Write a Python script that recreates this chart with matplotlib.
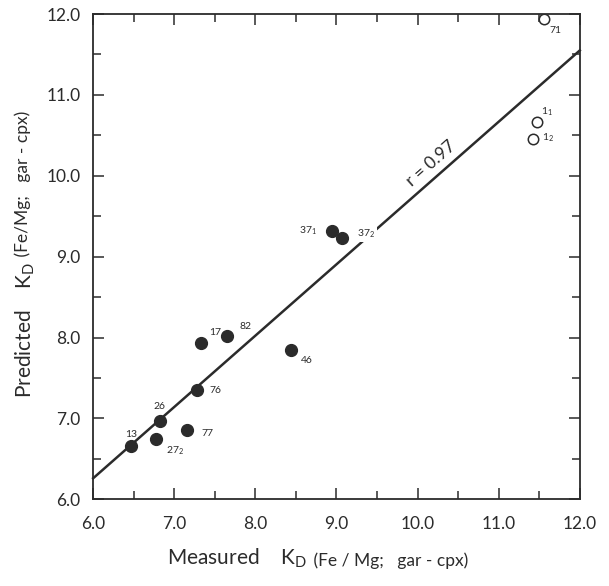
import matplotlib
matplotlib.use("Agg")
import matplotlib.pyplot as plt
from matplotlib.ticker import MultipleLocator, FixedLocator
import numpy as np

plt.rcParams['font.family'] = ['Lato', 'DejaVu Sans']
plt.rcParams['mathtext.fontset'] = 'custom'
plt.rcParams['mathtext.rm'] = 'Lato'

# filled symbols
measured = [6.47, 6.82, 6.78, 7.16, 7.28, 7.33, 7.65, 8.44, 8.95, 9.07]
predicted = [6.66, 6.97, 6.74, 6.86, 7.35, 7.93, 8.02, 7.84, 9.32, 9.23]
sample_ids = ['13', '26', '27$_2$', '77', '76', '17', '82', '46', '37$_1$', '37$_2$']
# label offsets in points
label_dx = [0, 0, 7, 10, 9, 6, 9, 7, -11, 11]
label_dy = [8, 10, -8, -3, 0, 8, 7, -7, 0, 3]

# open symbols
open_measured = [11.56, 11.47, 11.42]
open_predicted = [11.94, 10.67, 10.45]
open_ids = ['71', '1$_1$', '1$_2$']
open_dx = [8, 7, 11]
open_dy = [-8, 7, 1]

# regression line
fit_x = [6.0, 12.0]
fit_y = [6.26, 11.55]
r_value = 0.97

tick_values = [6.0, 7.0, 8.0, 9.0, 10.0, 11.0, 12.0]
tick_labels = ['6.0', '7.0', '8.0', '9.0', '10.0', '11.0', '12.0']

ink = '#2b2b2b'

fig = plt.figure(figsize=(6.09, 5.86), dpi=100)
ax = fig.add_axes([0.153, 0.148, 0.799, 0.828])

ax.plot(fit_x, fit_y, color=ink, lw=1.8, zorder=2, clip_on=False)
ax.plot(measured, predicted, 'o', color=ink, ms=8.5, zorder=3)
ax.plot(open_measured, open_predicted, 'o', mfc='white', mec=ink, mew=1.1,
        ms=7.5, zorder=3)

for x, y, s, dx, dy in zip(measured, predicted, sample_ids, label_dx, label_dy):
    ha = 'right' if dx < 0 else ('center' if dx == 0 else 'left')
    bg = dict(facecolor='white', edgecolor='none', pad=1) if s == '37$_2$' else None
    ax.annotate(s, (x, y), xytext=(dx, dy), textcoords='offset points',
                ha=ha, va='center', fontsize=7.5, color=ink, bbox=bg, zorder=4)

for x, y, s, dx, dy in zip(open_measured, open_predicted, open_ids, open_dx, open_dy):
    ax.annotate(s, (x, y), xytext=(dx, dy), textcoords='offset points',
                ha='center', va='center', fontsize=7.5, color=ink)

# r label along the line
p0 = ax.transData.transform((fit_x[0], fit_y[0]))
p1 = ax.transData.transform((fit_x[1], fit_y[1]))
ang = np.degrees(np.arctan2(p1[1] - p0[1], p1[0] - p0[0]))
tx = 10.27
ty = fit_y[0] + (fit_y[1] - fit_y[0]) * (tx - fit_x[0]) / (fit_x[1] - fit_x[0])
ax.annotate(f'r = {r_value:.2f}', (tx, ty), xytext=(-2, 3), textcoords='offset points',
            rotation=ang, rotation_mode='anchor', ha='center', va='bottom',
            fontsize=12.5, color=ink)

ax.set_xlim(6.0, 12.0)
ax.set_ylim(6.0, 12.0)
ax.xaxis.set_major_locator(FixedLocator(tick_values))
ax.yaxis.set_major_locator(FixedLocator(tick_values))
ax.set_xticklabels(tick_labels)
ax.set_yticklabels(tick_labels)
ax.xaxis.set_minor_locator(MultipleLocator(0.5))
ax.yaxis.set_minor_locator(MultipleLocator(0.5))
ax.tick_params(which='both', direction='in', top=True, right=True,
               color=ink, width=1.1, labelsize=12.5, labelcolor=ink)
ax.tick_params(which='major', length=8, pad=9)
ax.tick_params(axis='x', which='major', pad=12)
ax.tick_params(which='minor', length=6)
for sp in ax.spines.values():
    sp.set_color(ink)
    sp.set_linewidth(1.3)

# axis titles: big part plus a smaller parenthetical
xl = fig.text(0.275, 0.027, 'Measured    K$_\\mathrm{D}$', fontsize=15,
              ha='left', va='bottom', color=ink)
ax.annotate(' (Fe / Mg;   gar - cpx)', xy=(1, 0), xycoords=xl,
            xytext=(1, 1), textcoords='offset points', ha='left', va='bottom',
            fontsize=12.5, color=ink)

yl = fig.text(0.022, 0.32, 'Predicted    K$_\\mathrm{D}$', fontsize=15,
              rotation=90, ha='left', va='bottom', color=ink)
ax.annotate(' (Fe/Mg;   gar - cpx)', xy=(0, 1), xycoords=yl,
            xytext=(1, 1), textcoords='offset points', ha='left', va='bottom',
            rotation=90, fontsize=12.5, color=ink)

fig.savefig('out.png', dpi=100)
